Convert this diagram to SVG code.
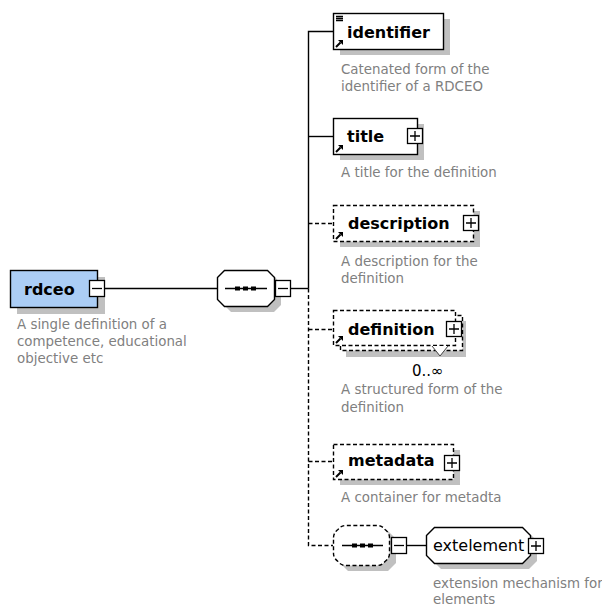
<svg xmlns="http://www.w3.org/2000/svg" xmlns:xlink="http://www.w3.org/1999/xlink" width="602" height="608" viewBox="0 0 602 608">
<style>
.shadow{fill:#c0c0c0;stroke:none}
.box{fill:#fff;stroke:#000;stroke-width:1.4}
.dash{stroke-dasharray:4 2.5}
.line{fill:none;stroke:#000;stroke-width:1.4}
.name{font-family:"DejaVu Sans",sans-serif;font-weight:bold;font-size:16px;fill:#000}
.plain{font-family:"DejaVu Sans",sans-serif;font-size:16px;fill:#000}
.desc{font-family:"DejaVu Sans",sans-serif;font-size:13.4px;fill:#808080}
.occ{font-family:"DejaVu Sans",sans-serif;font-size:15px;fill:#000}
</style>
<defs>
<g id="plus"><rect x="0.5" y="0.5" width="15" height="15" fill="#fff" stroke="#000" stroke-width="1.3"/><path d="M3 8H13M8 3V13" stroke="#000" stroke-width="1.3" fill="none"/></g>
<g id="minus"><rect x="0.5" y="0.5" width="15" height="16" fill="#fff" stroke="#000" stroke-width="1.3"/><path d="M3 8.5H13" stroke="#000" stroke-width="1.3" fill="none"/></g>
<g id="ref"><path d="M1 8L5.5 3.5" stroke="#000" stroke-width="2" fill="none"/><polygon points="3,1 8,1 8,6" fill="#000"/></g>
<g id="dots"><rect x="0" y="-2" width="5" height="4" fill="#000"/><rect x="8" y="-2" width="5" height="4" fill="#000"/><rect x="16" y="-2" width="5" height="4" fill="#000"/></g>
</defs>

<g id="connectors">
<path class="line" d="M105 288.5H217"/>
<path class="line" d="M291 288.5H308.5"/>
<path class="line" d="M308.5 288.5V31.5H333"/>
<path class="line" d="M308.5 136.5H333"/>
<path class="line dash" d="M308.5 223.5H333"/>
<path class="line dash" d="M308.5 288.5V545.5H333"/>
<path class="line dash" d="M308.5 329.5H333"/>
<path class="line dash" d="M308.5 461.5H333"/>
<path class="line" d="M407 545.5H426"/>
</g>

<g id="rdceo">
<rect class="shadow" x="17" y="277" width="88" height="37"/>
<rect x="10.5" y="270.5" width="87" height="37" fill="#abcdf5" stroke="#000" stroke-width="1.4"/>
<text class="name" x="24" y="295">rdceo</text>
<use xlink:href="#minus" x="89" y="280"/>
<text class="desc" x="17" y="329">A single definition of a</text>
<text class="desc" x="17" y="346">competence, educational</text>
<text class="desc" x="17" y="363">objective etc</text>
</g>

<g id="sequence1">
<polygon class="shadow" points="224,284 231,276 274,276 281,284 281,305 274,312 231,312 224,305"/>
<polygon class="box" points="217.5,277.5 224.5,270.5 267.5,270.5 274.5,277.5 274.5,299.5 267.5,306.5 224.5,306.5 217.5,299.5"/>
<path class="line" d="M225 288.5H267"/>
<use xlink:href="#dots" x="235" y="288.5"/>
<use xlink:href="#minus" x="275" y="280"/>
</g>

<g id="identifier">
<rect class="shadow" x="340" y="19" width="110" height="36"/>
<rect class="box" x="333.5" y="13.5" width="110" height="36"/>
<path class="line" d="M336 16.5H343M336 18.5H343M336 20.5H343" stroke-width="1"/>
<use xlink:href="#ref" x="335" y="39"/>
<text class="name" x="347" y="38">identifier</text>
<text class="desc" x="341" y="74">Catenated form of the</text>
<text class="desc" x="341" y="91">identifier of a RDCEO</text>
</g>

<g id="title">
<rect class="shadow" x="340" y="124" width="84" height="36"/>
<rect class="box" x="333.5" y="118.5" width="84" height="36"/>
<use xlink:href="#ref" x="335" y="144"/>
<text class="name" x="347" y="142">title</text>
<use xlink:href="#plus" x="407" y="128"/>
<text class="desc" x="341" y="177">A title for the definition</text>
</g>

<g id="description">
<rect class="shadow" x="340" y="211" width="140" height="36"/>
<rect class="box dash" x="333.5" y="205.5" width="140" height="36"/>
<use xlink:href="#ref" x="335" y="231"/>
<text class="name" x="348" y="229">description</text>
<use xlink:href="#plus" x="463" y="215"/>
<text class="desc" x="341" y="266">A description for the</text>
<text class="desc" x="341" y="283">definition</text>
</g>

<g id="definition">
<rect class="shadow" x="346" y="321" width="120" height="36"/>
<rect class="box dash" x="340.5" y="315.5" width="122" height="35"/>
<rect class="box dash" x="333.5" y="310.5" width="122" height="35"/>
<use xlink:href="#ref" x="335" y="335"/>
<text class="name" x="348" y="335">definition</text>
<use xlink:href="#plus" x="446" y="321"/>
<polyline points="432,346 440,356 448,346" fill="#fff" stroke="#404040"/>
<text class="occ" x="412" y="376">0..∞</text>
<text class="desc" x="341" y="394">A structured form of the</text>
<text class="desc" x="341" y="412">definition</text>
</g>

<g id="metadata">
<rect class="shadow" x="340" y="450" width="120" height="35"/>
<rect class="box dash" x="333.5" y="444.5" width="120" height="35"/>
<use xlink:href="#ref" x="335" y="469"/>
<text class="name" x="348" y="466">metadata</text>
<use xlink:href="#plus" x="444" y="455"/>
<text class="desc" x="341" y="502">A container for metadta</text>
</g>

<g id="sequence2">
<polygon class="shadow" points="340,539 348,531 388,531 396,539 396,563 388,571 348,571 340,563"/>
<path class="box dash" d="M333.5 537.5Q333.5 533 338 529.5Q341 525.5 346 525.5H377Q382 525.5 385 529.5Q389.5 533 389.5 537.5V553.5Q389.5 558 385 561.5Q382 565.5 377 565.5H346Q341 565.5 338 561.5Q333.5 558 333.5 553.5Z"/>
<path class="line" d="M342 545.5H383"/>
<use xlink:href="#dots" x="352" y="545.5"/>
<use xlink:href="#minus" x="391" y="537"/>
</g>

<g id="extelement">
<polygon class="shadow" points="433,541 441,533 529,533 537,541 537,561 529,569 441,569 433,561"/>
<polygon class="box" points="426.5,535.5 434.5,527.5 522.5,527.5 530.5,535.5 530.5,555.5 522.5,563.5 434.5,563.5 426.5,555.5"/>
<text class="plain" x="433" y="551">extelement</text>
<use xlink:href="#plus" x="528" y="538"/>
<text class="desc" x="433" y="588">extension mechanism for</text>
<text class="desc" x="433" y="604">elements</text>
</g>
</svg>
